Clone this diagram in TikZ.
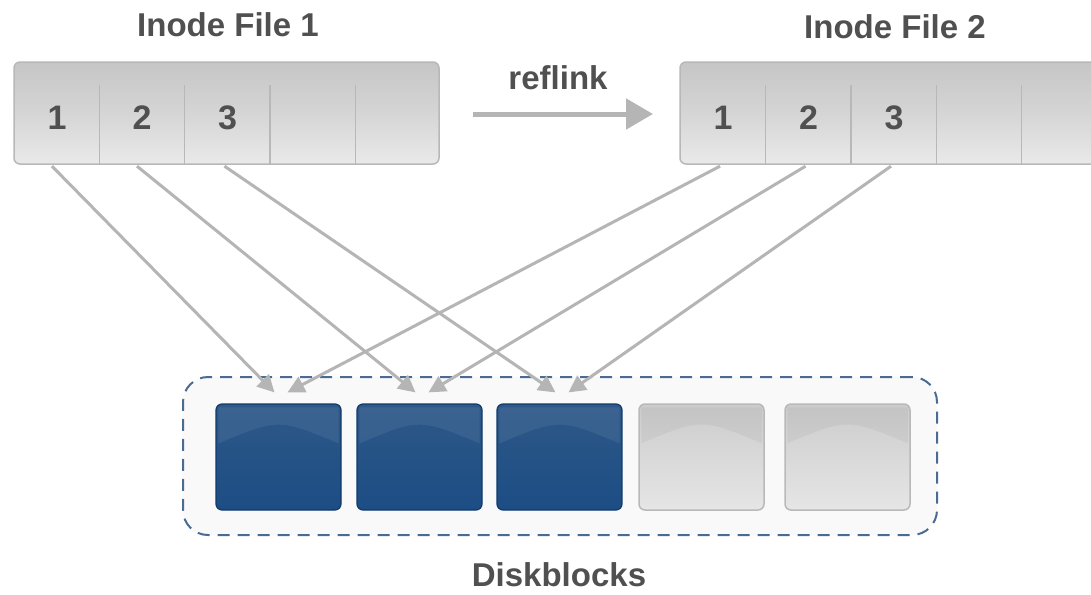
\documentclass[tikz,border=0pt]{standalone}
\usepackage{fontspec}
\setmainfont{Liberation Sans}
\usetikzlibrary{arrows.meta,calc}
\definecolor{txt}{HTML}{505050}
\definecolor{conn}{HTML}{B5B5B5}
\definecolor{dashc}{HTML}{4A6C93}
\definecolor{boxline}{HTML}{B8B8B8}
\definecolor{bltop}{HTML}{2E5888}
\definecolor{blmid}{HTML}{164478}
\definecolor{blbot}{HTML}{1C4D84}
\definecolor{blline}{HTML}{0F3A6C}
\tikzset{
  lbl/.style={font=\fontsize{33}{36}\selectfont\bfseries, text=txt, inner sep=0pt},
  inodebox/.style={draw=boxline, line width=1.5pt, rounded corners=6pt, minimum width=425pt, minimum height=102pt,
     top color=gray!45, bottom color=gray!17, middle color=gray!33},
  cell/.style={minimum width=85pt, minimum height=79pt, inner sep=0pt, text depth=13pt,
     font=\fontsize{34}{36}\selectfont\bfseries, text=txt},
  divider/.style={draw=boxline, line width=1.5pt},
  ptr/.style={draw=conn, line width=3pt, -{Triangle[length=17pt,width=17pt]}},
  bluebk/.style={draw=blline, line width=1.2pt, rounded corners=6pt, minimum width=125pt, minimum height=106pt,
     top color=bltop, middle color=blmid, bottom color=blbot},
  graybk/.style={draw=gray!55, line width=1.5pt, rounded corners=6pt, minimum width=125pt, minimum height=106pt,
     top color=gray!40, middle color=gray!30, bottom color=gray!20},
}
\begin{document}
\begin{tikzpicture}[x=1pt,y=-1pt]
\useasboundingbox (0,0) rectangle (1091,594);
\clip (0,0) rectangle (1091,594);
\fill[white] (0,0) rectangle (1091,594);

% titles
\node[lbl] (t1) at (228,25) {Inode File 1};
\node[lbl] (t2) at (895,27) {Inode File 2};
\node[lbl] (rl) at (558,78) {reflink};
\node[lbl] (db) at (559,575) {Diskblocks};

% inode file 1
\node[inodebox] (f1) at (226.5,113) {};
\foreach \i/\x/\t in {1/57/1,2/142/2,3/227.5/3,4/313/,5/398/}{
  \node[cell] (a\i) at (\x,124.5) {\t};
}
\foreach \i in {1,2,3,4}{ \draw[divider] (a\i.north east) -- (a\i.south east); }

% inode file 2
\node[inodebox] (f2) at (892.5,113) {};
\foreach \i/\x/\t in {1/723/1,2/808.5/2,3/894/3,4/979/,5/1064/}{
  \node[cell] (c\i) at (\x,124.5) {\t};
}
\foreach \i in {1,2,3,4}{ \draw[divider] (c\i.north east) -- (c\i.south east); }

% reflink arrow
\coordinate (r1) at (473,114);
\coordinate (r2) at (653,114);
\draw[draw=conn, line width=5pt, -{Triangle[length=27pt,width=30pt]}] (r1) -- (r2);

% disk container
\node[draw=dashc, line width=2pt, dash pattern=on 12pt off 8pt, rounded corners=25pt, fill=gray!5,
      minimum width=754pt, minimum height=158pt] (dc) at (560,456) {};

% blocks
\node[bluebk] (b1) at (278.5,457) {};
\node[bluebk] (b2) at (419.5,457) {};
\node[bluebk] (b3) at (559.5,457) {};
\node[graybk] (b4) at (701.5,457) {};
\node[graybk] (b5) at (847.5,457) {};

% glossy highlights
\foreach \b in {b1,b2,b3}{
  \fill[white, opacity=0.07] ($(\b.north west)+(3,40)$) .. controls ($(\b.north)+(0,15)$) .. ($(\b.north east)+(-3,40)$) -- ($(\b.north east)+(-3,4)$) -- ($(\b.north west)+(3,4)$) -- cycle;
}
\foreach \b in {b4,b5}{
  \fill[black, opacity=0.04] ($(\b.north west)+(3,40)$) .. controls ($(\b.north)+(0,15)$) .. ($(\b.north east)+(-3,40)$) -- ($(\b.north east)+(-3,4)$) -- ($(\b.north west)+(3,4)$) -- cycle;
}

% pointers
\draw[ptr] ($(a1.south)+(-5,2)$) -- ($(b1.north)+(-4,-11)$);
\draw[ptr] ($(a2.south)+(-5,2)$) -- ($(b2.north)+(-4,-11)$);
\draw[ptr] ($(a3.south)+(-3,2)$) -- ($(b3.north)+(-4,-11)$);
\draw[ptr] ($(c1.south)+(-3,2)$) -- ($(b1.north)+(9,-11)$);
\draw[ptr] ($(c2.south)+(-3,2)$) -- ($(b2.north)+(9,-11)$);
\draw[ptr] ($(c3.south)+(-3,2)$) -- ($(b3.north)+(9,-11)$);
\end{tikzpicture}
\end{document}
